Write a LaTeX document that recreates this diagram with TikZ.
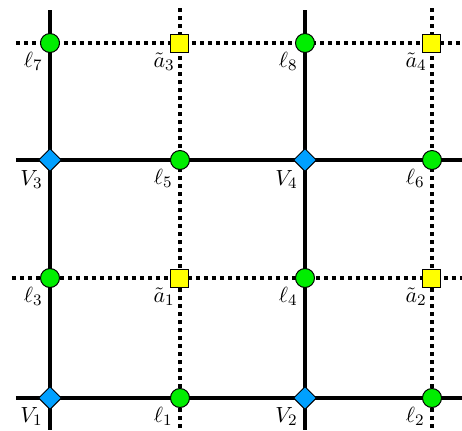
\documentclass[tikz,border=0pt]{standalone}
\usetikzlibrary{shapes.geometric}
\definecolor{cgreen}{RGB}{0,238,0}
\definecolor{cyell}{RGB}{255,255,0}
\definecolor{cblue}{RGB}{0,160,255}
\begin{document}
\begin{tikzpicture}[x=0.5pt,y=-0.5pt,
  solidln/.style={line width=2pt},
  dotln/.style={line width=2pt,dash pattern=on 2pt off 2pt},
  lnode/.style={circle,draw=black,line width=0.5pt,fill=cgreen,minimum size=9.5pt,inner sep=0pt},
  anode/.style={rectangle,draw=black,line width=0.5pt,fill=cyell,minimum size=9pt,inner sep=0pt},
  vnode/.style={diamond,draw=black,line width=0.5pt,fill=cblue,minimum size=11.5pt,inner sep=0pt},
  lab/.style={anchor=north east,inner sep=0pt,font=\fontsize{11}{13}\selectfont}]
\useasboundingbox (0,0) rectangle (462,430);
% line ends
\coordinate (c1t) at (50,10);  \coordinate (c1b) at (50,430);
\coordinate (c2t) at (180,8);  \coordinate (c2b) at (180,430);
\coordinate (c3t) at (305,10); \coordinate (c3b) at (305,430);
\coordinate (c4t) at (432,8);  \coordinate (c4b) at (432,430);
\coordinate (r1l) at (16,43);  \coordinate (r1r) at (462,43);
\coordinate (r2l) at (16,160); \coordinate (r2r) at (462,160);
\coordinate (r3l) at (12,278); \coordinate (r3r) at (462,278);
\coordinate (r4l) at (16,398); \coordinate (r4r) at (462,398);
\draw[solidln] (c1t) -- (c1b);
\draw[dotln] (c2t) -- (c2b);
\draw[solidln] (c3t) -- (c3b);
\draw[dotln] (c4t) -- (c4b);
\draw[dotln] (r1l) -- (r1r);
\draw[solidln] (r2l) -- (r2r);
\draw[dotln] (r3l) -- (r3r);
\draw[solidln] (r4l) -- (r4r);
% nodes
\node[lnode] (l7) at (50,43) {};
\node[anode] (a3) at (180,43) {};
\node[lnode] (l8) at (305,43) {};
\node[anode] (a4) at (432,43) {};
\node[vnode] (V3) at (50,160) {};
\node[lnode] (l5) at (180,160) {};
\node[vnode] (V4) at (305,160) {};
\node[lnode] (l6) at (432,160) {};
\node[lnode] (l3) at (50,278) {};
\node[anode] (a1) at (180,278) {};
\node[lnode] (l4) at (305,278) {};
\node[anode] (a2) at (432,278) {};
\node[vnode] (V1) at (50,398) {};
\node[lnode] (l1) at (180,398) {};
\node[vnode] (V2) at (305,398) {};
\node[lnode] (l2) at (432,398) {};
% labels
\node[lab] (tl7) at (43,52) {$\ell_7$};
\node[lab] (ta3) at (175,52) {$\tilde{a}_3$};
\node[lab] (tl8) at (298,52) {$\ell_8$};
\node[lab] (ta4) at (427,52) {$\tilde{a}_4$};
\node[lab] (tV3) at (43,170) {$V_3$};
\node[lab] (tl5) at (173,169) {$\ell_5$};
\node[lab] (tV4) at (298,170) {$V_4$};
\node[lab] (tl6) at (425,169) {$\ell_6$};
\node[lab] (tl3) at (43,287) {$\ell_3$};
\node[lab] (ta1) at (175,287) {$\tilde{a}_1$};
\node[lab] (tl4) at (298,287) {$\ell_4$};
\node[lab] (ta2) at (427,287) {$\tilde{a}_2$};
\node[lab] (tV1) at (43,407) {$V_1$};
\node[lab] (tl1) at (173,407) {$\ell_1$};
\node[lab] (tV2) at (298,407) {$V_2$};
\node[lab] (tl2) at (425,407) {$\ell_2$};
\end{tikzpicture}
\end{document}
